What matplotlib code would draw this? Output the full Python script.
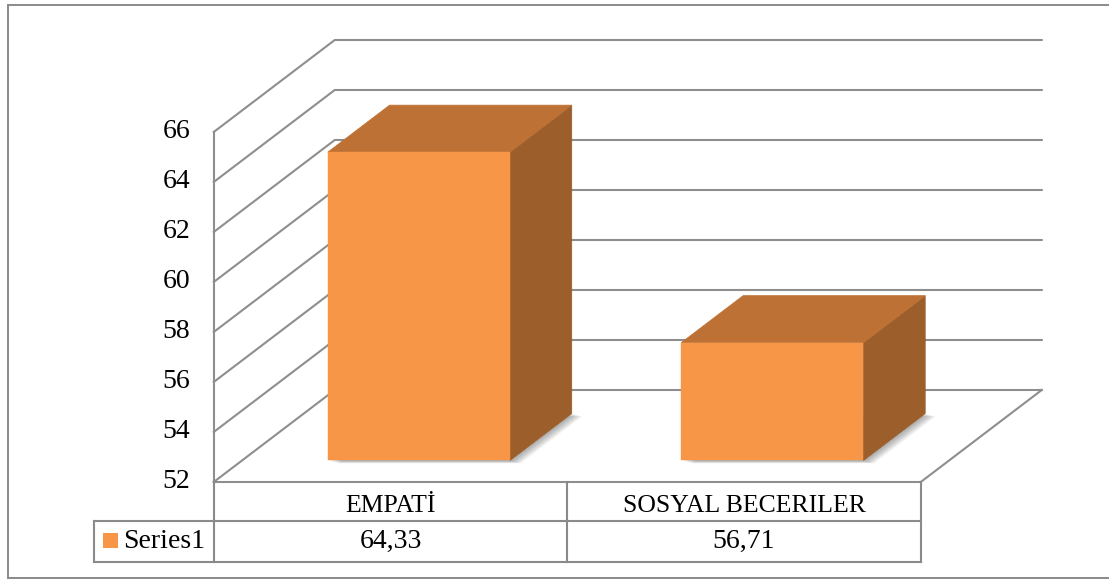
import matplotlib.pyplot as plt
from matplotlib.patches import Polygon, Rectangle
from matplotlib.lines import Line2D
import matplotlib.transforms as mtrans

categories = ['EMPATİ', 'SOSYAL BECERILER']
values = [64.33, 56.71]
value_labels = ['64,33', '56,71']
series_name = 'Series1'
y_ticks = [52, 54, 56, 58, 60, 62, 64, 66]

W, H = 1109, 579
fig = plt.figure(figsize=(W / 100, H / 100), dpi=100)
ax = fig.add_axes([0, 0, 1, 1])
ax.axis('off')

# plot box in pixels: one category column, one value unit, floor line
col_px = 353.5
x0_px = 390.5
base_px = 482
unit_px = 25
y_min = y_ticks[0]
ax.set_xlim(-x0_px / col_px, (W - x0_px) / col_px)
ax.set_ylim(y_min - (H - base_px) / unit_px, y_min + base_px / unit_px)

# oblique offset of the back wall (depth z = 1)
DX = 121 / col_px
DY = 92 / unit_px


def proj(x, v, z):
    return (x + DX * z, v + DY * z)


def px_x(p):
    return (p - x0_px) / col_px


def px_y(p):
    return y_min - (p - base_px) / unit_px


FONT = 'Liberation Serif'
FS = 20
grid_c = '#8e8e8e'
lw = 1.5
front_c = '#F79646'
top_c = '#BD7134'
side_c = '#9C5E2B'

x_left, x_right = -0.5, len(categories) - 0.5

# side wall + back wall gridlines
for v in y_ticks:
    pts = [proj(x_left, v, 0), proj(x_left, v, 1), proj(x_right, v, 1)]
    ax.plot(*zip(*pts), color=grid_c, lw=lw, solid_joinstyle='miter', zorder=1)
# floor outline and vertical axis
pts = [proj(x_left, y_min, 0), proj(x_right, y_min, 0), proj(x_right, y_min, 1)]
ax.plot(*zip(*pts), color=grid_c, lw=lw, solid_joinstyle='miter', zorder=1)
pts = [proj(x_left, y_min, 0), proj(x_left, y_ticks[-1], 0)]
ax.plot(*zip(*pts), color=grid_c, lw=lw, zorder=1)

for v in y_ticks:
    ax.text(px_x(190), v, str(v), ha='right', va='center', family=FONT,
            fontsize=FS, color='black')

# bars
bar_w = 0.515
zf, zb = 0.235, 0.745
for i, v in enumerate(values):
    xl, xr = i - bar_w / 2, i + bar_w / 2
    # soft shadow on the floor
    foot = [proj(xl, y_min, zf), proj(xr, y_min, zf), proj(xr, y_min, zb), proj(xl, y_min, zb)]
    for k in range(1, 13):
        off = mtrans.offset_copy(ax.transData, fig=fig, x=k * 0.9, y=-k * 0.25, units='dots')
        ax.add_patch(Polygon(foot, closed=True, facecolor='#404040', edgecolor='none',
                             alpha=0.045, transform=off, zorder=2))
    side = [proj(xr, y_min, zf), proj(xr, y_min, zb), proj(xr, v, zb), proj(xr, v, zf)]
    top = [proj(xl, v, zf), proj(xr, v, zf), proj(xr, v, zb), proj(xl, v, zb)]
    front = [proj(xl, y_min, zf), proj(xr, y_min, zf), proj(xr, v, zf), proj(xl, v, zf)]
    ax.add_patch(Polygon(side, closed=True, facecolor=side_c, edgecolor=side_c, lw=0.6, zorder=3))
    ax.add_patch(Polygon(top, closed=True, facecolor=top_c, edgecolor=top_c, lw=0.6, zorder=3))
    ax.add_patch(Polygon(front, closed=True, facecolor=front_c, edgecolor=front_c, lw=0.3, zorder=4))

# data table below the floor
row1 = px_y(521)
row2 = px_y(562)
leg_left = px_x(94)
tab_c = '#8a8a8a'
for x in [x_left, 0.5, x_right]:
    ax.plot([x, x], [y_min, row2], color=tab_c, lw=lw, zorder=1)
ax.plot([leg_left, leg_left], [row1, row2], color=tab_c, lw=lw)
ax.plot([leg_left, x_right], [row1, row1], color=tab_c, lw=lw)
ax.plot([leg_left, x_right], [row2, row2], color=tab_c, lw=lw)

for i, (cat, lab) in enumerate(zip(categories, value_labels)):
    ax.text(i, (y_min + row1) / 2 - 0.2, cat, ha='center', va='center',
            family=FONT, fontsize=18.5)
    ax.text(i, (row1 + row2) / 2, lab, ha='center', va='center',
            family=FONT, fontsize=FS)

ax.add_patch(Rectangle((px_x(103), px_y(548)), 15 / col_px, 15 / unit_px,
                       facecolor=front_c, edgecolor='none'))
ax.text(px_x(123), (row1 + row2) / 2, series_name, ha='left', va='center',
        family=FONT, fontsize=FS)

# chart frame
frame_c = '#8a8a8a'
for xs, ys in [([8, 1109], [4.5, 4.5]), ([8, 8], [4.5, 578]), ([8, 1109], [578, 578])]:
    fig.add_artist(Line2D([x / W for x in xs], [1 - y / H for y in ys],
                          color=frame_c, lw=1.4, transform=fig.transFigure))

fig.savefig('out.png', dpi=100)
